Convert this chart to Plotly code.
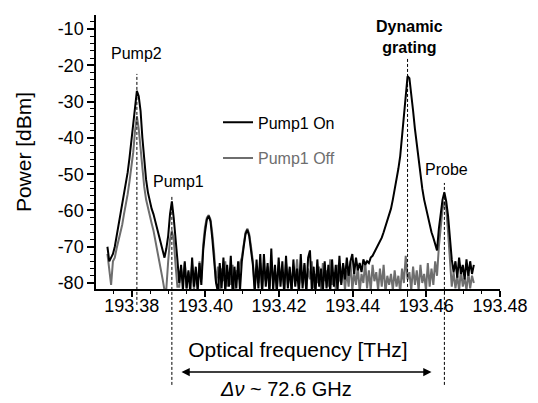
import plotly.graph_objects as go

# ---------------- data ----------------
F_START = 193.3734   # THz, first OSA sample
F_STEP = 0.0005      # THz, sample spacing

power_on = [
    -70, -74, -73, -72, -70, -67, -64.5, -62, -58.5, -55.5,
    -53, -49.5, -45.5, -40.5, -36, -30, -27, -28.5, -32.5, -40,
    -46, -51.5, -55, -57.5, -59.5, -61, -63, -65, -66.5, -69,
    -71, -73, -70.5, -67, -61, -57.5, -62, -69, -73.5, -80,
    -75, -82, -74, -81.5, -76.5, -82.5, -73, -81, -75.5, -82.5,
    -74.5, -80.5, -71, -66, -62.5, -61.5, -63, -68, -73, -80,
    -82.5, -74.5, -81.5, -73, -82.5, -75, -81, -72.5, -83, -75.5,
    -81.5, -74, -82, -74, -70, -66.5, -65.3, -67, -71, -75,
    -82.5, -73.5, -81.5, -72, -82.5, -72, -81, -74.5, -83, -70.5,
    -82, -75, -82.5, -73, -81, -74, -83, -72.5, -81.5, -75.5,
    -82.5, -73.5, -81, -76, -83, -72, -81.5, -74.5, -82.5, -73,
    -71, -82, -75.5, -83, -73.5, -81, -76, -82.5, -74, -81.5,
    -75, -82.5, -73.5, -81, -75, -82, -72.5, -80.5, -74.5, -79,
    -73, -78, -74, -72, -77.5, -73, -76.5, -74.5, -77, -73.5,
    -75, -74, -74.5, -73, -72.5, -71.5, -70.5, -69.5, -68.5, -67.5,
    -66, -64.5, -63, -61.5, -59.5, -57, -54.5, -51.5, -48.5, -45,
    -40, -34.5, -28.5, -23, -23.5, -27.5, -32.5, -37.5, -42, -46,
    -50.5, -54, -57, -59.5, -62, -64, -66, -67.5, -69.5, -71,
    -65, -60, -57, -55, -57.5, -61.5, -68, -73.5, -77, -74,
    -78.5, -73, -77.5, -75, -79, -73.5, -78, -74, -77.5, -75,
]

power_off = [
    -72, -76, -80.5, -74, -73, -70.5, -68.5, -66.5, -64, -61,
    -58.5, -55.5, -52, -48.5, -44, -38, -34, -37.5, -43.5, -48.5,
    -53.5, -57, -59.5, -61.5, -63.5, -65.5, -68, -70.5, -73, -75.5,
    -79, -82, -81.5, -74, -68, -65.5, -68, -75, -81, -81,
    -76, -79.5, -74.5, -81.5, -77, -80, -75, -82, -76.5, -80.5,
    -74, -79, -69.5, -64.5, -62, -61.3, -62.5, -66.5, -72, -80,
    -75.5, -82, -76, -79.5, -74, -81, -77, -80.5, -75, -82,
    -76.5, -79, -74.5, -73, -69, -66, -65, -66.5, -70, -74,
    -81.5, -76, -80, -74.5, -82, -77, -79.5, -75.5, -81, -74,
    -80, -76.5, -82, -75, -79, -77.5, -81.5, -74.5, -80.5, -76,
    -82, -75.5, -79.5, -73.5, -81, -77, -80, -75, -82, -76,
    -79, -74, -81.5, -77.5, -80, -75.5, -82, -74.5, -79.5, -76.5,
    -81, -73.5, -80.5, -77, -82, -75, -79, -80, -75, -82,
    -76.5, -81, -74, -82, -77, -80.5, -75.5, -82.5, -77.5, -80,
    -74, -81.5, -76.5, -82, -75, -79.5, -77, -82, -76, -81,
    -75, -82.5, -78, -80.5, -77.5, -82, -76.5, -81, -78, -82.5,
    -76, -80, -72.5, -79, -77, -82, -75.5, -80.5, -76.5, -82,
    -75, -80, -77.5, -82, -74.5, -81, -76, -80.5, -74, -78,
    -70, -63.5, -59.5, -57.5, -59.5, -66, -75, -81, -77, -81.5,
    -78, -82, -76.5, -81, -78.5, -82, -77, -81.5, -78, -80,
]

freq = [round(F_START + F_STEP * i, 5) for i in range(len(power_on))]

series_names = ["Pump1 On", "Pump1 Off"]
series_colors = ["#000000", "#6e6e6e"]

x_tickvals = [193.38, 193.40, 193.42, 193.44, 193.46, 193.48]
x_ticktext = ["193.38", "193.40", "193.42", "193.44", "193.46", "193.48"]
y_tickvals = [-10, -20, -30, -40, -50, -60, -70, -80]
y_ticktext = ["-10", "-20", "-30", "-40", "-50", "-60", "-70", "-80"]

# spectral lines marked with dashed guides
line_freqs = [193.3814, 193.3909, 193.4549, 193.4649]
line_top = [0.785, 0.339, 0.843, 0.387]       # paper fraction
line_bottom = [-0.058, -0.350, -0.029, -0.350]

label_texts = ["Pump2", "Pump1", "<b>Dynamic<br>grating</b>", "Probe"]
label_x = [193.3814, 193.3928, 193.4555, 193.4655]
label_y = [-16.6, -52.1, -12.2, -48.8]

delta_text = "<i>Δν</i> ~ 72.6 GHz"
delta_x = 193.4218
arrow_from = 193.3931
arrow_to = 193.4614

FONT = "Liberation Sans, Arial, sans-serif"
NBSP = "\u00a0"

# ---------------- figure ----------------
fig = go.Figure()
fig.add_trace(go.Scatter(
    x=freq, y=power_off, mode="lines",
    name="<span style='color:#6e6e6e'>" + series_names[1] + "</span>",
    line=dict(color=series_colors[1], width=2), legendrank=2, legendgroup="off"))
fig.add_trace(go.Scatter(
    x=freq, y=power_on, mode="lines", name=series_names[0],
    line=dict(color=series_colors[0], width=2), legendrank=1, legendgroup="on"))

for f, t, b in zip(line_freqs, line_top, line_bottom):
    fig.add_shape(type="line", xref="x", yref="paper", x0=f, x1=f, y0=b, y1=t,
                  line=dict(color="#000000", width=1, dash="3px,2px"))

for t, x, y in zip(label_texts, label_x, label_y):
    fig.add_annotation(x=x, y=y, xref="x", yref="y", text=t, showarrow=False,
                       font=dict(family=FONT, size=16, color="#000000"))

fig.add_annotation(x=arrow_to, y=-0.303, xref="x", yref="paper",
                   ax=arrow_from, ay=0, axref="x", ayref="pixel",
                   text="", showarrow=True, arrowhead=2, arrowside="end+start",
                   arrowsize=1.1, arrowwidth=1.5, arrowcolor="#000000",
                   standoff=0, startstandoff=0)
fig.add_annotation(x=delta_x, y=-0.414, xref="x", yref="paper", yanchor="bottom",
                   text=delta_text, showarrow=False,
                   font=dict(family=FONT, size=20, color="#000000"))

fig.update_layout(
    width=530, height=395,
    margin=dict(l=88, r=38, t=7, b=114),
    paper_bgcolor="white", plot_bgcolor="white",
    font=dict(family=FONT, color="#000000"),
    showlegend=True,
    legend=dict(x=0.302, y=0.67, xanchor="left", yanchor="top",
                font=dict(family=FONT, size=16, color="#000000"),
                bgcolor="rgba(0,0,0,0)", tracegroupgap=12, itemwidth=30),
    xaxis=dict(range=[193.3703, 193.48], showgrid=False, zeroline=False,
               showline=True, linecolor="#000000", linewidth=1.5,
               ticks="outside", ticklen=6, tickwidth=1.5, tickcolor="#000000",
               tickvals=x_tickvals, ticktext=x_ticktext, ticklabelstandoff=-6,
               tickfont=dict(family=FONT, size=18, color="#000000"),
               minor=dict(dtick=0.005, tick0=193.38, ticks="outside", ticklen=3,
                          tickwidth=1, tickcolor="#000000", showgrid=False),
               title=dict(text=NBSP * 4 + "Optical frequency [THz]", standoff=27,
                          font=dict(family=FONT, size=21, color="#000000"))),
    yaxis=dict(range=[-81.65, -6.1], showgrid=False, zeroline=False,
               showline=True, linecolor="#000000", linewidth=1.5,
               ticks="outside", ticklen=7, tickwidth=1.5, tickcolor="#000000",
               tickvals=y_tickvals, ticktext=y_ticktext,
               tickfont=dict(family=FONT, size=18, color="#000000"),
               minor=dict(dtick=2, tick0=0, ticks="outside", ticklen=4,
                          tickwidth=1, tickcolor="#000000", showgrid=False),
               title=dict(text="Power [dBm]" + NBSP * 2, standoff=20,
                          font=dict(family=FONT, size=21, color="#000000"))),
)

fig.write_html("out.html")
